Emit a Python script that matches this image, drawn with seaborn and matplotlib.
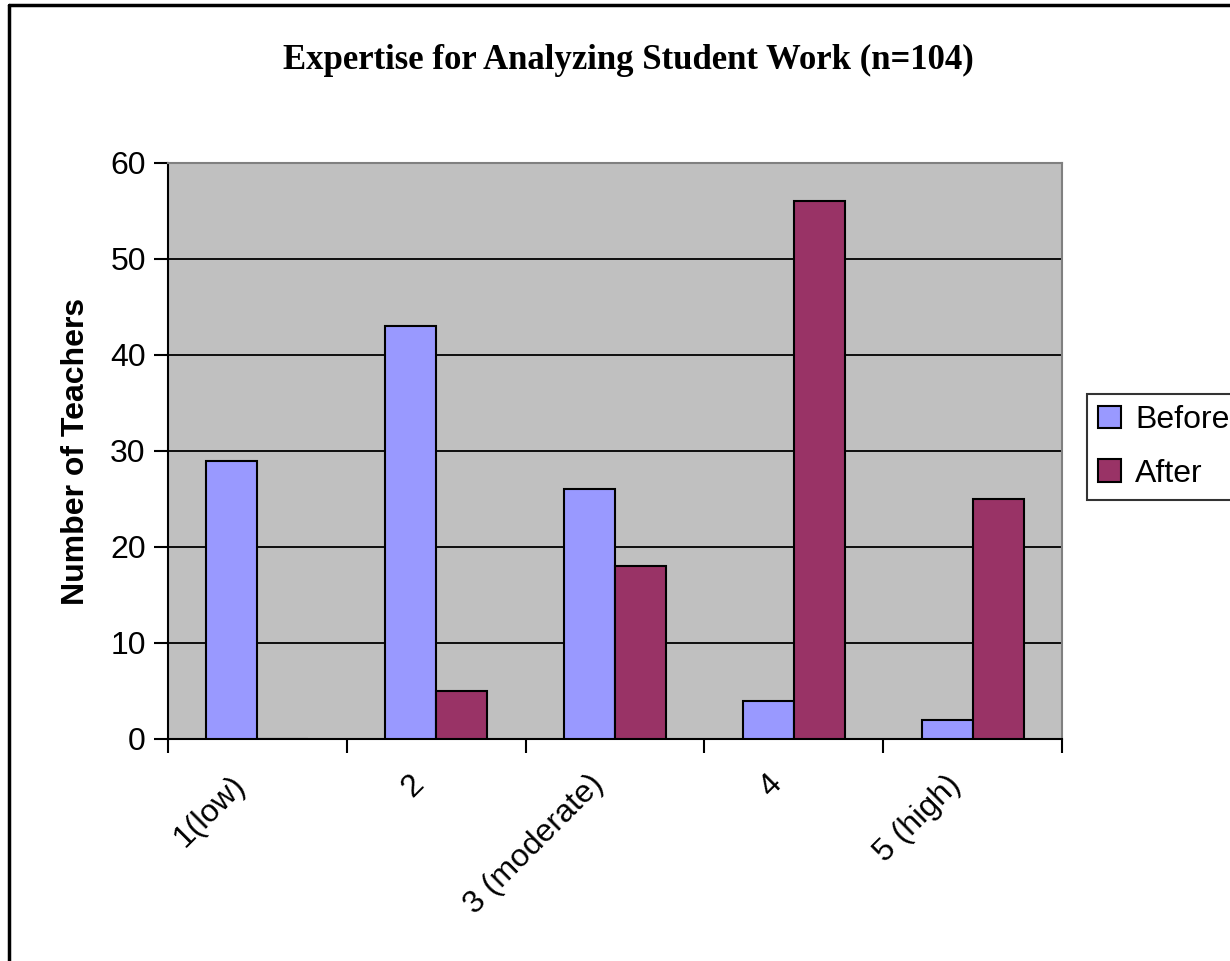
import matplotlib
matplotlib.use("Agg")
import matplotlib.pyplot as plt
from matplotlib.lines import Line2D
from matplotlib.transforms import ScaledTranslation
import seaborn as sns
import pandas as pd

# data
levels = ["1(low)", "2", "3 (moderate)", "4", "5 (high)"]
before = [29, 43, 26, 4, 2]
after = [0, 5, 18, 56, 25]
series = ["Before", "After"]
colors = ["#9999FF", "#993366"]

df = pd.DataFrame({
    "level": levels * 2,
    "count": before + after,
    "when": ["Before"] * len(levels) + ["After"] * len(levels),
})

sns.set_style("white")
plt.rcParams["font.family"] = ["Liberation Sans", "DejaVu Sans"]
plt.rcParams["text.color"] = "black"
plt.rcParams["axes.labelcolor"] = "black"
plt.rcParams["xtick.color"] = "black"
plt.rcParams["ytick.color"] = "black"

W, H = 1230, 961
fig = plt.figure(figsize=(W / 100, H / 100), dpi=100)
ax = fig.add_axes([168 / W, 1 - 739 / H, (1062 - 168) / W, (739 - 163) / H])
ax.set_facecolor("#C0C0C0")

sns.barplot(data=df, x="level", y="count", hue="when", hue_order=series,
            palette=colors, saturation=1, width=0.57, edgecolor="black",
            linewidth=1.5, ax=ax, legend=True, zorder=3)

ax.set_ylim(0, 60)
ax.set_xlim(-0.5, 4.5)
ax.set_yticks(range(0, 61, 10))
ax.yaxis.grid(True, color="black", linewidth=1.3, zorder=1)
ax.set_axisbelow(True)
ax.tick_params(axis="y", direction="out", length=10, width=1.5, labelsize=23,
               left=True, pad=6)
ax.set_xticks(range(len(levels)))
ax.set_xticklabels(levels, rotation=45, ha="right", rotation_mode="anchor",
                   fontsize=23)
ax.tick_params(axis="x", length=0, pad=22)
shift = ScaledTranslation(-27 / 100, 0, fig.dpi_scale_trans)
for lab in ax.get_xticklabels():
    lab.set_transform(lab.get_transform() + shift)
ax.set_xticks([i - 0.5 for i in range(len(levels) + 1)], minor=True)
ax.tick_params(axis="x", which="minor", direction="out", length=10, width=1.5,
               bottom=True)

for s in ["left", "bottom"]:
    ax.spines[s].set_color("black")
    ax.spines[s].set_linewidth(1.5)
for s in ["top", "right"]:
    ax.spines[s].set_color("#808080")
    ax.spines[s].set_linewidth(1.5)

ax.set_xlabel("")
ax.set_ylabel("Number of Teachers", fontsize=23, fontweight="bold", labelpad=14)

fig.text(628 / W, 1 - 60 / H, "Expertise for Analyzing Student Work (n=104)",
         ha="center", va="center", fontsize=25, fontweight="bold",
         family="Liberation Serif")

leg = ax.legend(title=None, loc="center left", bbox_to_anchor=(1087 / W, 1 - 447 / H),
                bbox_transform=fig.transFigure, fontsize=23, frameon=True,
                fancybox=False, edgecolor="black", borderpad=0.35,
                handlelength=0.7, handleheight=0.7, handletextpad=0.45,
                labelspacing=0.74, borderaxespad=0)
leg.get_frame().set_linewidth(1.5)

# outer chart frame (only left and top visible)
fig.add_artist(Line2D([9 / W, 9 / W], [0, 1 - 5 / H], color="black", lw=2.5,
                      transform=fig.transFigure))
fig.add_artist(Line2D([9 / W, 1], [1 - 5 / H, 1 - 5 / H], color="black", lw=2.5,
                      transform=fig.transFigure))

fig.savefig("out.png", dpi=100)
